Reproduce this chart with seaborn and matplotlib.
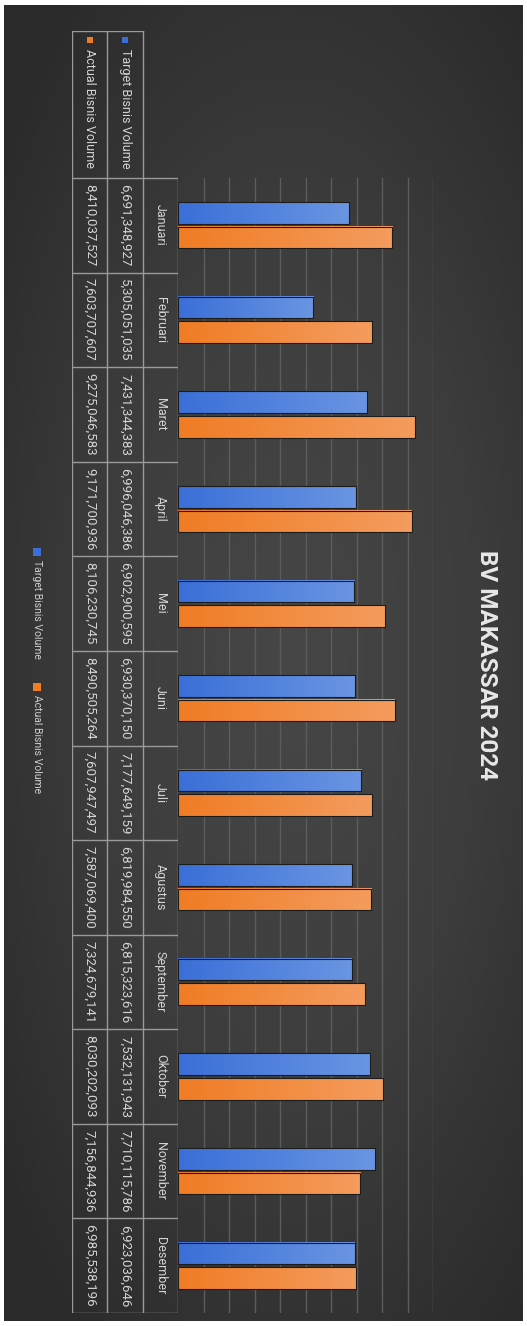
import numpy as np
import pandas as pd
import seaborn as sns
import matplotlib.pyplot as plt
from matplotlib.patches import Rectangle
from matplotlib.colors import LinearSegmentedColormap

# data
bulan = ['Januari', 'Februari', 'Maret', 'April', 'Mei', 'Juni', 'Juli',
         'Agustus', 'September', 'Oktober', 'November', 'Desember']
target = [6691348927, 5305051035, 7431344383, 6996046386, 6902900595, 6930370150,
          7177649159, 6819984550, 6815323616, 7532131943, 7710115786, 6923036646]
actual = [8410037527, 7603707607, 9275046583, 9171700936, 8106230745, 8490505264,
          7607947497, 7587069400, 7324679141, 8030202093, 7156844936, 6985538196]
seri = ['Target Bisnis Volume', 'Actual Bisnis Volume']
warna = ['#3a6fd8', '#f07c24']
warna_terang = ['#6a95e2', '#f49c5e']
judul = 'BV MAKASSAR 2024'

df = pd.DataFrame({
    'Bulan': bulan * 2,
    'Seri': [seri[0]] * 12 + [seri[1]] * 12,
    'Nilai': target + actual,
})

FONT = ['Roboto', 'DejaVu Sans']
txt_col = '#d4d4d4'
line_col = '#9a9a9a'

W, H = 527, 1326
fig = plt.figure(figsize=(W / 100, H / 100), dpi=100, facecolor='white')


def box(x0, y0, x1, y1):
    # pixel box (from top-left) -> figure rect
    return [x0 / W, 1 - y1 / H, (x1 - x0) / W, (y1 - y0) / H]


# background with soft radial gradient
bg = fig.add_axes(box(4, 5, 523, 1321))
bg.axis('off')
yy, xx = np.mgrid[-1:1:400j, -1:1:160j]
r = np.clip(np.sqrt((xx - 0.1) ** 2 * 0.8 + yy ** 2) / 1.3, 0, 1)
bg_cmap = LinearSegmentedColormap.from_list('bg', ['#474747', '#3d3d3d', '#2a2a2a'])
bg.imshow(r, cmap=bg_cmap, extent=[0, 1, 0, 1], aspect='auto', vmin=0, vmax=1)
bg.set_xlim(0, 1)
bg.set_ylim(0, 1)

# bars
ax = fig.add_axes(box(178, 178, 433, 1313))
sns.barplot(data=df, y='Bulan', x='Nilai', hue='Seri', orient='h',
            palette=warna, saturation=1, width=0.52, gap=0.12,
            errorbar=None, legend=False, ax=ax,
            edgecolor='#1c1c1c', linewidth=0.8)
ax.set_facecolor('none')

grad = np.linspace(0, 1, 256).reshape(1, -1)
for p in list(ax.patches):
    fc = p.get_facecolor()
    i = 0 if fc[2] > 0.5 else 1
    cm = LinearSegmentedColormap.from_list('g', [warna[i], warna_terang[i]])
    x0, y0, w, h = p.get_x(), p.get_y(), p.get_width(), p.get_height()
    ax.imshow(grad, cmap=cm, extent=[x0, x0 + w, y0 + h, y0], aspect='auto',
              zorder=p.get_zorder() - 0.01)
    p.set_facecolor('none')

ax.set_xlim(0, 1e10)
ax.set_ylim(11.5, -0.5)
ax.set_xticks(np.arange(1e9, 1.01e10, 1e9))
ax.grid(axis='x', color='#5c5c5c', lw=1)
ax.grid(axis='y', visible=False)
ax.set_axisbelow(True)
ax.tick_params(length=0, labelbottom=False, labelleft=False)
ax.set_xlabel('')
ax.set_ylabel('')
for s in ['top', 'right', 'bottom', 'left']:
    ax.spines[s].set_visible(False)

# data table
u = 12 / (1313 - 178)
top = -0.5 - (178 - 31) * u
tb = fig.add_axes(box(72, 31, 178, 1313))
tb.set_xlim(0, 3)
tb.set_ylim(11.5, top)
tb.axis('off')
kw = dict(color=line_col, lw=1)
tb.plot([0, 0], [top, 11.5], **kw)
tb.plot([1, 1], [top, 11.5], **kw)
tb.plot([2, 2], [top, 11.5], **kw)
tb.plot([3, 3], [-0.5, 11.5], **kw)
tb.plot([0, 2], [top, top], **kw)
for k in range(13):
    tb.plot([0, 3], [k - 0.5, k - 0.5], **kw)

for i, m in enumerate(bulan):
    tb.text(2.5, i, m, rotation=-90, ha='center', va='center',
            color=txt_col, fontsize=9, family=FONT)
    tb.text(1.5, i, f'{target[i]:,}', rotation=-90, ha='center', va='center',
            color=txt_col, fontsize=9.5, family=FONT)
    tb.text(0.5, i, f'{actual[i]:,}', rotation=-90, ha='center', va='center',
            color=txt_col, fontsize=9.5, family=FONT)

for j, (nama, c) in enumerate(zip(seri, warna)):
    xc = 1.5 - j
    sq = 6
    tb.add_patch(Rectangle((xc - sq / 2 / 35.3, top + 6 * u), sq / 35.3, sq * u,
                           color=c, lw=0))
    tb.text(xc, top + 18 * u, nama, rotation=-90, ha='center', va='top',
            color=txt_col, fontsize=9, family=FONT)

# legend (rotated, bottom-left of chart)
leg_y = [548, 683]
for nama, c, y0 in zip(seri, warna, leg_y):
    fig.add_artist(Rectangle((33 / W, 1 - (y0 + 8) / H), 8 / W, 8 / H,
                             transform=fig.transFigure, color=c, lw=0))
    fig.text(37 / W, 1 - (y0 + 12) / H, nama, rotation=-90, ha='center', va='top',
             color='#cfcfcf', fontsize=7.5, family=FONT)

# title
fig.text(486 / W, 1 - 665 / H, judul, rotation=-90, ha='center', va='center',
         color='#e8e8e8', fontsize=17.5, fontweight='bold', family=FONT)

plt.savefig('out.png', dpi=100)
